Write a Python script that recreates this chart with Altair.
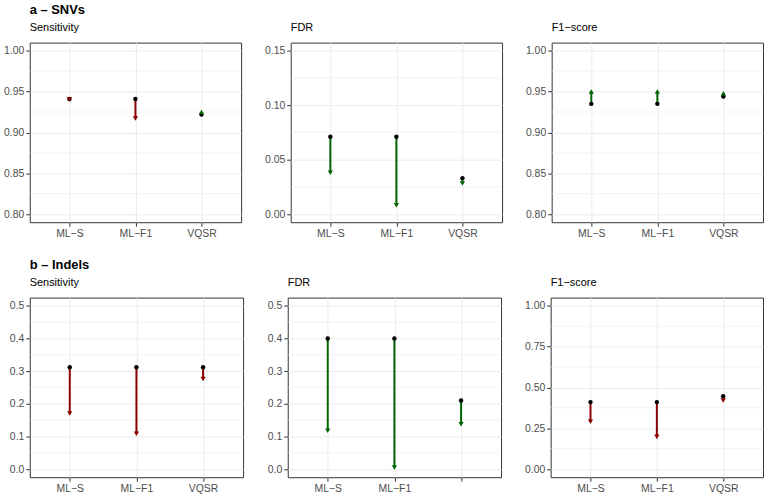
import altair as alt
import pandas as pd

methods = ["ML-S", "ML-F1", "VQSR"]

# SNVs
snv_sens_before = [0.941, 0.941, 0.922]
snv_sens_after = [0.9405, 0.917, 0.925]
snv_fdr_before = [0.071, 0.071, 0.033]
snv_fdr_after = [0.038, 0.008, 0.028]
snv_f1_before = [0.935, 0.935, 0.944]
snv_f1_after = [0.950, 0.950, 0.948]

# Indels
indel_sens_before = [0.312, 0.312, 0.312]
indel_sens_after = [0.170, 0.108, 0.276]
indel_fdr_before = [0.400, 0.400, 0.210]
indel_fdr_after = [0.117, 0.005, 0.137]
indel_f1_before = [0.410, 0.410, 0.446]
indel_f1_after = [0.290, 0.197, 0.420]

# axis breaks
sens_snv_ticks = [0.80, 0.85, 0.90, 0.95, 1.00]
sens_snv_minor = [0.825, 0.875, 0.925, 0.975]
fdr_snv_ticks = [0.00, 0.05, 0.10, 0.15]
fdr_snv_minor = [0.025, 0.075, 0.125]
tenth_ticks = [0.0, 0.1, 0.2, 0.3, 0.4, 0.5]
tenth_minor = [0.05, 0.15, 0.25, 0.35, 0.45]
quarter_ticks = [0.00, 0.25, 0.50, 0.75, 1.00]
quarter_minor = [0.125, 0.375, 0.625, 0.875]

GOOD = "#006400"
BAD = "#8B0000"
GRID = "#EBEBEB"
FONT = "Liberation Sans"


def expand(lo, hi):
    d = (hi - lo) * 0.05
    return [lo - d, hi + d]


def panel(before, after, higher_better, ticks, minor, fmt, title, subtitle,
          width, extent, hide_vqsr=False):
    status = []
    direction = []
    for b, a in zip(before, after):
        better = (a > b) if higher_better else (a < b)
        status.append("better" if better else "worse")
        direction.append("up" if a > b else "down")
    df = pd.DataFrame({"method": methods, "before": before, "after": after,
                       "status": status, "dir": direction})
    yscale = alt.Scale(domain=expand(ticks[0], ticks[-1]), nice=False, zero=False)
    yaxis = alt.Axis(values=ticks, format=fmt, grid=True, gridColor=GRID, gridWidth=1,
                     domain=False, tickColor="#333333", tickSize=4, labelPadding=2,
                     labelColor="#4D4D4D", labelFontSize=10.5, labelFont=FONT,
                     title=None, minExtent=extent, maxExtent=extent)
    if hide_vqsr:
        label_expr = "datum.value == 'VQSR' ? '' : replace(datum.value, '-', '\u2212')"
    else:
        label_expr = "replace(datum.value, '-', '\u2212')"
    xenc = alt.X("method:N", sort=methods,
                 scale=alt.Scale(type="point", padding=0.6, domain=methods),
                 axis=alt.Axis(grid=True, gridColor=GRID, gridWidth=1, domain=False,
                               tickColor="#333333", tickSize=4, labelPadding=2,
                               labelColor="#4D4D4D", labelFontSize=10.5, labelFont=FONT,
                               labelAngle=0, title=None, labelExpr=label_expr))

    minor_layer = alt.Chart(pd.DataFrame({"v": minor})).mark_rule(
        color=GRID, strokeWidth=0.6).encode(
        y=alt.Y("v:Q", scale=yscale, axis=yaxis))

    base = alt.Chart(df)
    color = alt.Color("status:N", scale=alt.Scale(domain=["better", "worse"], range=[GOOD, BAD]),
                      legend=None)
    seg = base.mark_rule(strokeWidth=2).encode(
        x=xenc, y=alt.Y("before:Q", scale=yscale, axis=yaxis), y2="after:Q", color=color)
    start = base.mark_point(filled=True, size=20, color="black", opacity=1).encode(
        x=xenc, y=alt.Y("before:Q", scale=yscale, axis=yaxis))
    head = base.mark_point(filled=True, size=28, opacity=1).encode(
        x=xenc, y=alt.Y("after:Q", scale=yscale, axis=yaxis), color=color,
        shape=alt.Shape("dir:N", scale=alt.Scale(domain=["up", "down"],
                                                  range=["triangle-up", "triangle-down"]),
                        legend=None))

    return alt.layer(minor_layer, seg, start, head).properties(
        width=width, height=181,
        view=alt.ViewBackground(stroke="#333333", strokeWidth=1, fill="white"),
        title=alt.TitleParams(text=title, subtitle=subtitle, anchor="start", frame="group",
                              font=FONT, fontSize=13, fontWeight="bold", color="black",
                              subtitleFont=FONT, subtitleFontSize=11, subtitleColor="black",
                              subtitlePadding=5, offset=10))


row_a = alt.hconcat(
    panel(snv_sens_before, snv_sens_after, True, sens_snv_ticks, sens_snv_minor, ".2f",
          "a – SNVs", "Sensitivity", 213, 26),
    panel(snv_fdr_before, snv_fdr_after, False, fdr_snv_ticks, fdr_snv_minor, ".2f",
          " ", "FDR", 213, 26),
    panel(snv_f1_before, snv_f1_after, True, sens_snv_ticks, sens_snv_minor, ".2f",
          " ", "F1\u2212score", 213, 26),
    spacing=22,
)

row_b = alt.hconcat(
    panel(indel_sens_before, indel_sens_after, True, tenth_ticks, tenth_minor, ".1f",
          "b – Indels", "Sensitivity", 215, 26),
    panel(indel_fdr_before, indel_fdr_after, False, tenth_ticks, tenth_minor, ".1f",
          " ", "FDR", 215, 20, hide_vqsr=True),
    panel(indel_f1_before, indel_f1_after, True, quarter_ticks, quarter_minor, ".2f",
          " ", "F1\u2212score", 214, 26),
    spacing=22,
)

chart = alt.vconcat(row_a, row_b, spacing=19).properties(
    padding={"left": 3, "top": 1, "right": 0, "bottom": 2},
    background="white",
).configure(font=FONT).configure_view(stroke="#333333", strokeWidth=1)

chart.save("out.html", embed_options={"renderer": "svg", "actions": False})
